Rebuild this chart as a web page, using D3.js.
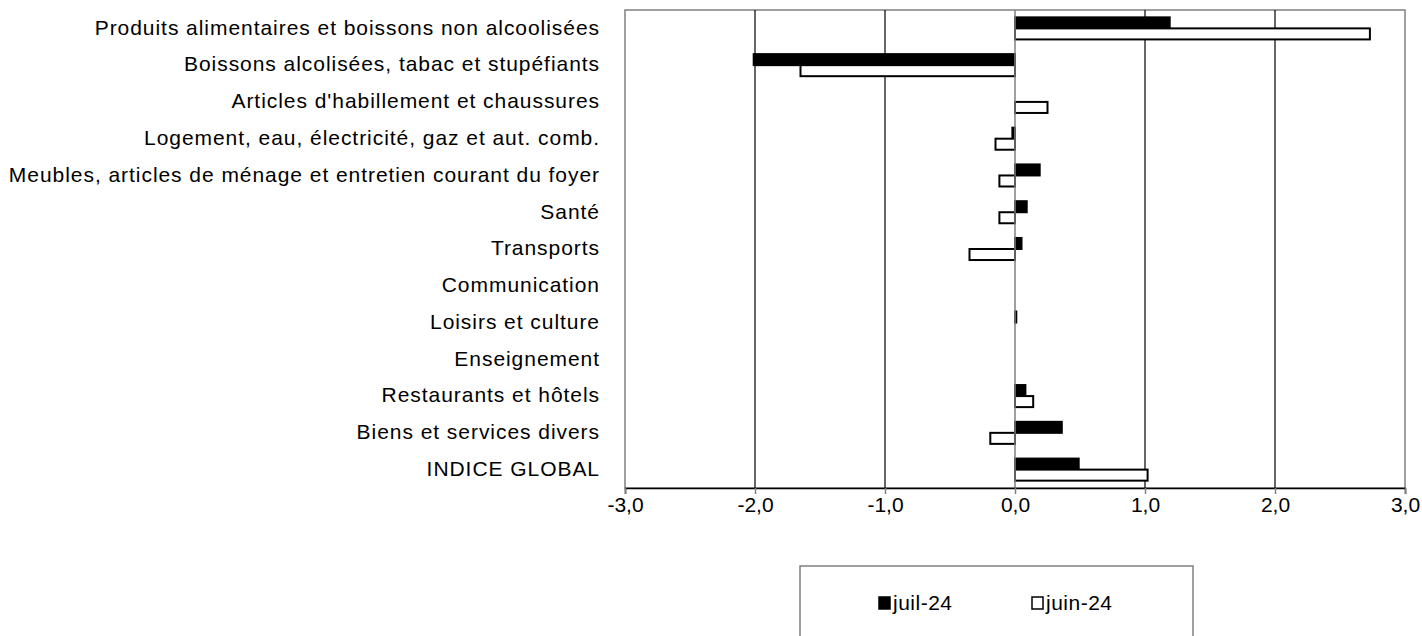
<!DOCTYPE html>
<html>
<head>
<meta charset="utf-8">
<script src="https://cdn.jsdelivr.net/npm/d3@7"></script>
<style>
  body { margin: 0; background: #fff; }
  text { font-family: "Liberation Sans", Arial, sans-serif; }
</style>
</head>
<body>
<script type="text/javascript">
var w = 1422;
var h = 636;

// DATA
var categories = [
  "Produits alimentaires et boissons non alcoolisées",
  "Boissons alcolisées, tabac et stupéfiants",
  "Articles d'habillement et chaussures",
  "Logement, eau, électricité, gaz et aut. comb.",
  "Meubles, articles de ménage et entretien courant du foyer",
  "Santé",
  "Transports",
  "Communication",
  "Loisirs et culture",
  "Enseignement",
  "Restaurants et hôtels",
  "Biens et services divers",
  "INDICE GLOBAL"
];
var juil24 = [1.19, -2.01, 0, -0.02, 0.19, 0.09, 0.05, 0, 0.01, 0, 0.08, 0.36, 0.49];
var juin24 = [2.73, -1.65, 0.25, -0.15, -0.12, -0.12, -0.35, 0, 0, 0, 0.14, -0.19, 1.02];
var seriesNames = ["juil-24", "juin-24"];
var ticks = [-3, -2, -1, 0, 1, 2, 3];

var plotL = 625, plotR = 1405, plotT = 10, plotB = 488;
var fs = 21;

var Xscale = d3.scaleLinear().domain([-3, 3]).range([plotL, plotR]);
var Yscale = d3.scaleBand().domain(categories).range([plotT, plotB]).paddingInner(0.4).paddingOuter(0.2);
var sub = d3.scaleBand().domain(seriesNames).range([0, Yscale.bandwidth()]);

const svg = d3.select("body").append("svg").attr("width", w).attr("height", h);

// plot border
svg.append("rect").attr("x", plotL).attr("y", plotT).attr("width", plotR - plotL).attr("height", plotB - plotT)
  .attr("fill", "none").attr("stroke", "#808080").attr("stroke-width", 1.5);

// gridlines
svg.append("g").selectAll("line").data(ticks.filter(function (t) { return t != 0 && t != -3 && t != 3; }))
  .enter().append("line")
  .attr("x1", function (d) { return Math.round(Xscale(d)); }).attr("x2", function (d) { return Math.round(Xscale(d)); })
  .attr("y1", plotT).attr("y2", plotB)
  .attr("stroke", "#000").attr("stroke-width", 1.2);

// bars
var series = [juil24, juin24];
series.forEach(function (vals, s) {
  svg.append("g").selectAll("rect").data(vals).enter().append("rect")
    .attr("x", function (d) { return Xscale(Math.min(0, d)); })
    .attr("width", function (d) { return Math.abs(Xscale(d) - Xscale(0)); })
    .attr("y", function (d, i) { return Yscale(categories[i]) + sub(seriesNames[s]); })
    .attr("height", sub.bandwidth())
    .attr("fill", s == 0 ? "#000" : "#fff")
    .attr("stroke", "#000").attr("stroke-width", 2)
    .style("display", function (d) { return d == 0 ? "none" : null; });
});

// zero line
svg.append("line").attr("x1", Xscale(0)).attr("x2", Xscale(0)).attr("y1", plotT).attr("y2", plotB)
  .attr("stroke", "#808080").attr("stroke-width", 1.5);

// x axis
var xAxis = d3.axisBottom(Xscale).tickValues(ticks).tickSize(6)
  .tickFormat(function (d) { return d3.format(".1f")(d).replace(".", ",").replace("\u2212", "-"); });
var ax = svg.append("g").attr("transform", "translate(0," + plotB + ")").call(xAxis);
ax.select(".domain").attr("stroke", "#000").attr("stroke-width", 1.5);
ax.selectAll(".tick line").attr("stroke", "#808080").attr("stroke-width", 1.5);
ax.selectAll(".tick text").attr("font-size", fs).attr("fill", "#000").attr("dy", "0.72em")
  .style("font-family", "Liberation Sans, Arial, sans-serif");

// category labels
svg.append("g").selectAll("text").data(categories).enter().append("text")
  .attr("x", 600)
  .attr("y", function (d) { return Yscale(d) + Yscale.bandwidth() / 2; })
  .attr("dy", "0.3em")
  .attr("text-anchor", "end")
  .attr("font-size", fs)
  .attr("letter-spacing", 0.95)
  .text(function (d) { return d; });

// legend
var lg = svg.append("g");
lg.append("rect").attr("x", 800).attr("y", 566).attr("width", 393).attr("height", 80)
  .attr("fill", "#fff").attr("stroke", "#808080").attr("stroke-width", 1.5);
var legX = [878, 1031];
seriesNames.forEach(function (n, i) {
  lg.append("rect").attr("x", legX[i] + 1).attr("y", 597).attr("width", 11).attr("height", 12)
    .attr("fill", i == 0 ? "#000" : "#fff").attr("stroke", "#000").attr("stroke-width", 1.5);
  lg.append("text").attr("x", legX[i] + 15).attr("y", 610).attr("font-size", fs)
    .attr("letter-spacing", 0.5).text(n);
});
</script>
</body>
</html>
